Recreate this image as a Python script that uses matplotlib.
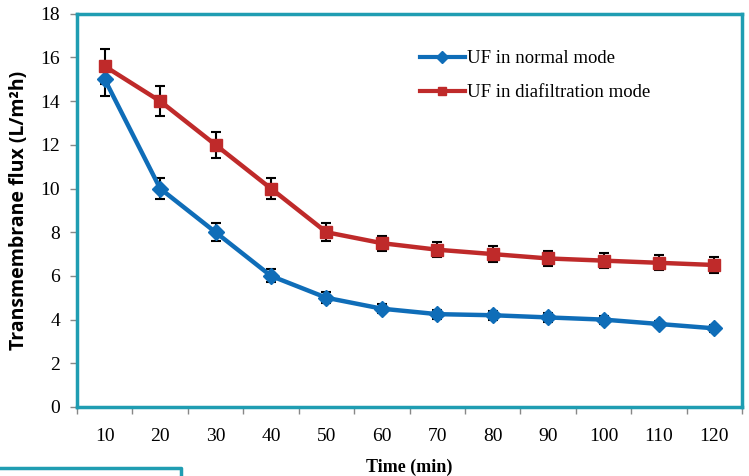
import numpy as np
import matplotlib.pyplot as plt
from matplotlib.lines import Line2D

# Data
time_min = [10, 20, 30, 40, 50, 60, 70, 80, 90, 100, 110, 120]
flux_normal = [15.0, 10.0, 8.0, 6.0, 5.0, 4.5, 4.25, 4.2, 4.1, 4.0, 3.8, 3.6]
err_normal = [0.75, 0.5, 0.4, 0.3, 0.25, 0.2, 0.2, 0.2, 0.2, 0.18, 0.15, 0.15]
flux_diafilt = [15.6, 14.0, 12.0, 10.0, 8.0, 7.5, 7.2, 7.0, 6.8, 6.7, 6.6, 6.5]
err_diafilt = [0.8, 0.7, 0.6, 0.5, 0.4, 0.35, 0.35, 0.35, 0.35, 0.35, 0.35, 0.35]

blue = '#0f6db8'
red = '#bf2a2a'
teal = '#1f9db2'
serif = ['Liberation Serif', 'DejaVu Serif']

fig = plt.figure(figsize=(7.49, 4.76), dpi=100)
ax = fig.add_axes([0.1028, 0.145, 0.888, 0.826])

x = np.arange(1, len(time_min) + 1)

ax.errorbar(x, flux_normal, yerr=err_normal, color=blue, lw=3.2,
            marker='D', ms=8.5, mfc=blue, mec=blue, ecolor='black',
            elinewidth=1.5, capsize=3.5, capthick=1.5, zorder=3,
            label='UF in normal mode')
ax.errorbar(x, flux_diafilt, yerr=err_diafilt, color=red, lw=3.2,
            marker='s', ms=8.5, mfc=red, mec=red, ecolor='black',
            elinewidth=1.5, capsize=3.5, capthick=1.5, zorder=3,
            label='UF in diafiltration mode')

ax.set_xlim(0.5, len(time_min) + 0.5)
ax.set_ylim(0, 18)
ax.set_yticks(np.arange(0, 19, 2))
ax.set_xticks(x)
ax.set_xticklabels([str(t) for t in time_min])
ax.set_xticks(np.arange(0.5, len(time_min) + 1, 1), minor=True)
ax.tick_params(axis='x', which='major', length=0, pad=15)
ax.tick_params(axis='x', which='minor', length=5, color='#888888', width=1)
ax.tick_params(axis='y', length=5, color='#888888', width=1, pad=7)
for lab in ax.get_xticklabels() + ax.get_yticklabels():
    lab.set_family(serif)
    lab.set_fontsize(14)

for s in ax.spines.values():
    s.set_color(teal)
    s.set_linewidth(2.5)

ax.set_xlabel('Time (min)', family=serif, fontsize=13, fontweight='bold',
              labelpad=10)
ax.set_ylabel('Transmembrane flux (L/m²h)', family='Open Sans',
              fontsize=14, fontweight='bold', labelpad=8)

handles = [Line2D([0], [0], color=blue, lw=3, marker='D', ms=6),
           Line2D([0], [0], color=red, lw=3, marker='s', ms=6)]
ax.legend(handles, ['UF in normal mode', 'UF in diafiltration mode'],
          loc='upper left', bbox_to_anchor=(0.49, 0.95), frameon=False,
          prop={'family': serif, 'size': 13.5}, handlelength=2.4,
          handletextpad=0.1, labelspacing=0.9)

# fragment of the neighbouring box at bottom left
fig.add_artist(Line2D([0, 0.241, 0.241], [0.017, 0.017, -0.01],
                      transform=fig.transFigure, color=teal, lw=2.5))

fig.savefig('out.png', dpi=100)
